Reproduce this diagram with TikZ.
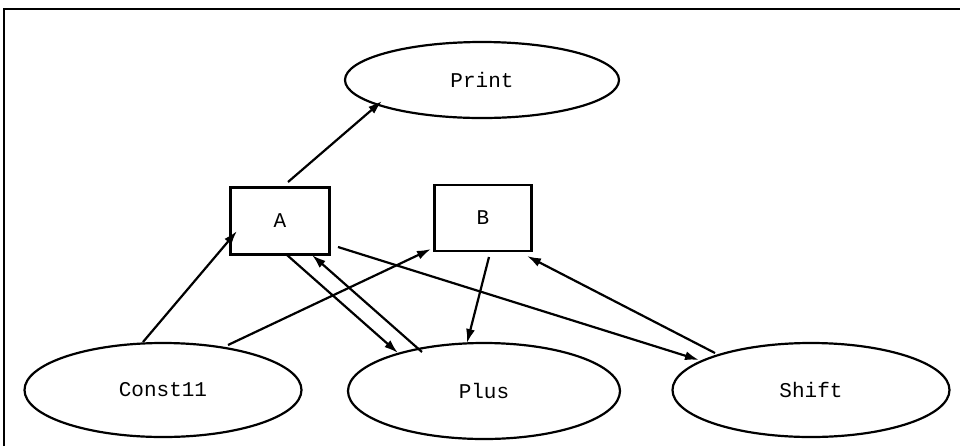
\documentclass[tikz,border=0pt]{standalone}
\usepackage{fontspec}
\setmonofont{Liberation Mono}
\usetikzlibrary{shapes.geometric,arrows.meta}
\begin{document}
\begin{tikzpicture}[x=0.5pt,y=-0.5pt,
  every node/.style={font=\ttfamily\fontsize{10.5}{12}\selectfont},
  oval/.style={ellipse,draw,line width=1.1pt,inner sep=0pt},
  box/.style={rectangle,draw,line width=1.1pt,inner sep=0pt},
  arr/.style={line width=1.1pt,-{Latex[length=7pt,width=4.5pt]}},
  lbl/.style={}]
\useasboundingbox (0,0) rectangle (960,446);
\draw[line width=1.1pt] (4,446) -- (4,9) -- (960,9);
% nodes
\node[oval,minimum width=137pt,minimum height=38pt] (Print) at (482,80) {\raisebox{-1pt}{Print}};
\node[box,minimum width=49.5pt,minimum height=33.5pt] (A) at (280,221) {\raisebox{-2.5pt}{A}};
\node[box,minimum width=48.5pt,minimum height=33pt] (B) at (483,218) {\raisebox{-2.5pt}{B}};
\node[oval,minimum width=138.5pt,minimum height=47pt] (Const) at (163,390) {\raisebox{-3.5pt}{Const11}};
\node[oval,minimum width=136pt,minimum height=48pt] (Plus) at (484,391) {\raisebox{-3pt}{Plus}};
\node[oval,minimum width=138.5pt,minimum height=47pt] (Shift) at (811,390) {\raisebox{-3.5pt}{Shift}};
% connector end points
\coordinate (a1) at (288,182); \coordinate (p1) at (382,101);
\coordinate (c1) at (143,342); \coordinate (a2) at (237,231);
\coordinate (c2) at (228,345); \coordinate (b1) at (431,249);
\coordinate (a3) at (287,255); \coordinate (p2) at (398,353);
\coordinate (p3) at (422,352); \coordinate (a4) at (312,255);
\coordinate (b2) at (489,257); \coordinate (p4) at (467,343);
\coordinate (a5) at (338,247); \coordinate (s1) at (699,360);
\coordinate (s2) at (715,353); \coordinate (b3) at (527,256);
% connectors
\draw[arr] (a1) -- (p1);
\draw[arr] (c1) -- (a2);
\draw[arr] (c2) -- (b1);
\draw[arr] (a3) -- (p2);
\draw[arr] (p3) -- (a4);
\draw[arr] (b2) -- (p4);
\draw[arr] (a5) -- (s1);
\draw[arr] (s2) -- (b3);
\end{tikzpicture}
\end{document}
